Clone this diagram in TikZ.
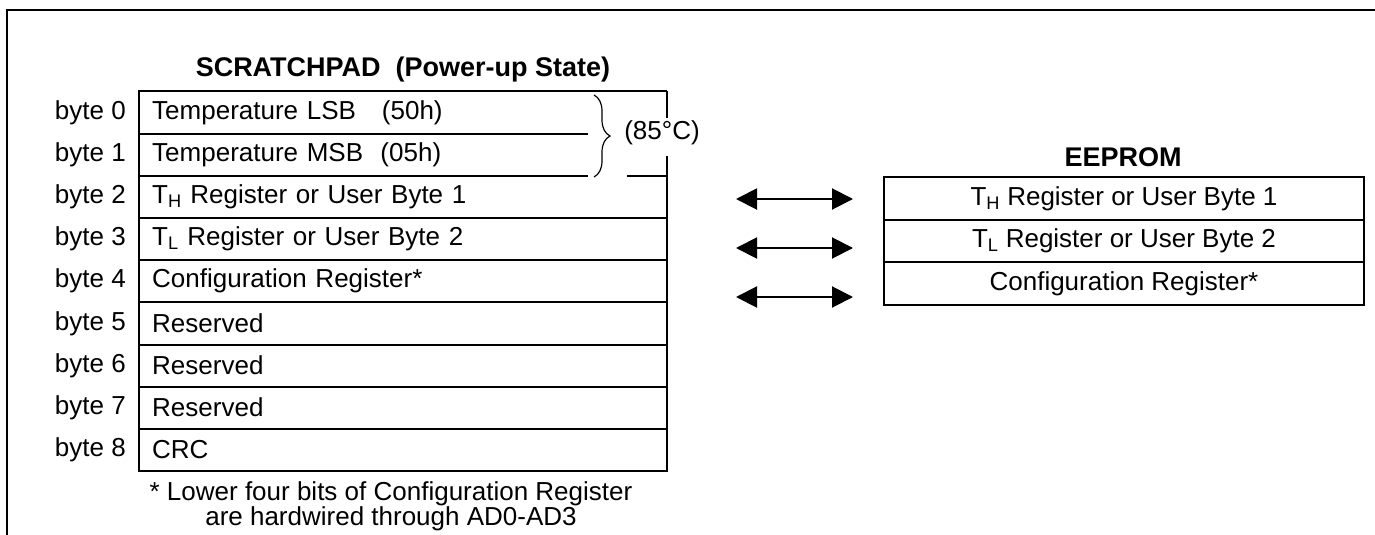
\documentclass[tikz,border=0pt]{standalone}
\usepackage{fontspec}
\setmainfont{Liberation Sans}
\usetikzlibrary{arrows.meta,decorations.pathreplacing}

\tikzset{
    every node/.style={font=\fontsize{26}{28}\selectfont, inner sep=0pt},
    line/.style={black, line width=2pt},
    cell/.style={minimum width=528pt, minimum height=42.2pt, text width=502pt, align=left, anchor=north west},
    ecell/.style={draw, line width=2pt, minimum width=480pt, minimum height=42.7pt, align=center, anchor=north west},
    title/.style={font=\fontsize{27}{29}\selectfont\bfseries},
    link/.style={line width=2pt, {Triangle[length=21pt,width=21pt]}-{Triangle[length=21pt,width=21pt]}},
}

\begin{document}
\begin{tikzpicture}[x=1pt, y=-1pt]
    \useasboundingbox (0,0) rectangle (1375,535);
    \draw[line] (7,540) -- (7,10) -- (1380,10);

    % scratchpad
    \node[title] (sptitle) at (403,70) {SCRATCHPAD\ \ (Power-up State)};
    \node[cell] (s0) at (139, 91.0) {Temperature LSB\ \ \ (50h)};
    \node[cell] (s1) at (139,133.2) {Temperature MSB\ \ (05h)};
    \node[cell] (s2) at (139,175.4) {T\textsubscript{H} Register or User Byte 1};
    \node[cell] (s3) at (139,217.6) {T\textsubscript{L} Register or User Byte 2};
    \node[cell] (s4) at (139,259.8) {Configuration Register*};
    \node[cell] (s5) at (139,302.0) {Reserved};
    \node[cell] (s6) at (139,344.2) {Reserved};
    \node[cell] (s7) at (139,386.4) {Reserved};
    \node[cell] (s8) at (139,428.6) {CRC};
    \foreach \i in {0,...,8}
        \node[anchor=east] (b\i) at ([xshift=-13pt]s\i.west) {byte \i};

    \draw[line] (s0.north east) -- (s0.north west) -- (s8.south west) -- (s8.south east) -- (s2.north east) -- ++(0,-19);
    \draw[line] (s0.north east) -- ++(0,27);
    \draw[line] (s0.south west) -- ++(449,0);
    \draw[line] (s1.south west) -- ++(449,0);
    \draw[line] (s1.south east) -- ++(-40,0);
    \foreach \i in {2,...,7}
        \draw[line] (s\i.south west) -- (s\i.south east);

    \draw[line width=1.2pt, decorate, decoration={brace, amplitude=16pt}] (594,95) -- (594,177);
    \node (degc) at (662,133) {(85°C)};

    \node[align=center, anchor=north, font=\fontsize{26}{23}\selectfont] (note) at (391,481)
        {* Lower four bits of Configuration Register\\are hardwired through AD0-AD3};

    % eeprom
    \node[title] (eetitle) at (1123,157) {EEPROM};
    \node[ecell] (e0) at (883,176.0) {T\textsubscript{H} Register or User Byte 1};
    \node[ecell] (e1) at (883,218.7) {T\textsubscript{L} Register or User Byte 2};
    \node[ecell] (e2) at (883,261.4) {Configuration Register*};

    \coordinate (a0l) at (736,199);
    \coordinate (a0r) at (853,199);
    \coordinate (a1l) at (736,248);
    \coordinate (a1r) at (853,248);
    \coordinate (a2l) at (736,297);
    \coordinate (a2r) at (853,297);
    \draw[link] (a0l) -- (a0r);
    \draw[link] (a1l) -- (a1r);
    \draw[link] (a2l) -- (a2r);
\end{tikzpicture}
\end{document}
